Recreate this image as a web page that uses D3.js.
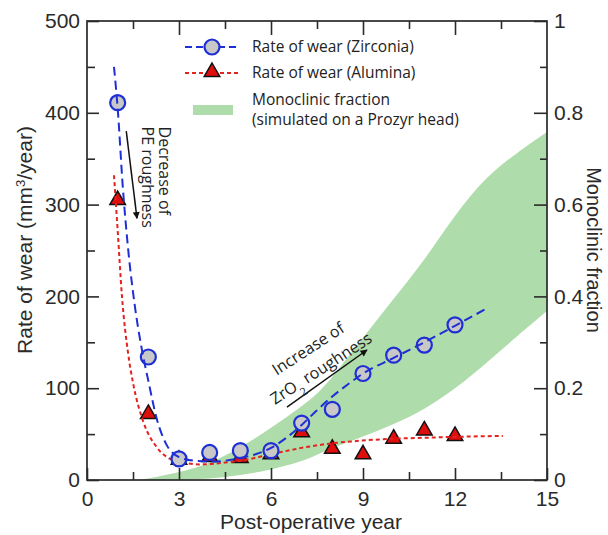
<!DOCTYPE html>
<html>
<head>
<meta charset="utf-8">
<script src="https://cdn.jsdelivr.net/npm/d3@7"></script>
<style>
  body { margin: 0; background: #fff; }
  svg { display: block; }
</style>
</head>
<body>
<svg id="chart" width="608" height="535"></svg>
<script>
// ---- Measured wear rates (mm^3/year) per post-operative year ----
const years = [1, 2, 3, 4, 5, 6, 7, 8, 9, 10, 11, 12];
const zirconiaWear = [411, 134, 23, 30, 32, 32, 62, 77, 116, 136, 147, 169];
const aluminaWear  = [305, 72, 22, 25, 24, 28, 52, 34, 28, 45, 54, 48];

// ---- Trend curves (year, wear) ----
const zirconiaTrendYears = [0.88, 1.0, 1.17, 1.34, 1.55, 1.79, 2.0, 2.28, 2.6, 3.0, 3.5, 4, 4.5, 5, 5.5, 6, 6.5, 7, 7.5, 8, 8.5, 9, 10, 11, 12, 13.04];
const zirconiaTrend      = [450, 405, 318, 252, 192, 142, 108, 66, 38, 25, 21, 20, 21, 24, 28, 35, 46, 60, 76, 91, 104, 116, 133, 150, 168, 187];
const aluminaTrendYears  = [0.88, 1.0, 1.14, 1.34, 1.5, 1.83, 2.27, 2.8, 3.7, 4.5, 5, 6, 7, 8, 9, 10, 11, 12, 13.56];
const aluminaTrend       = [332, 272, 200, 138, 106, 64, 36, 22, 17, 19, 21, 28, 35, 40, 43, 45, 46, 47, 48];

// ---- Simulated monoclinic fraction band (right axis) ----
const bandYears = [1.7, 2, 3, 4, 5, 6, 7, 7.5, 8, 9, 10, 11, 12, 13, 14, 15];
const bandLower = [0, 0, 0, 0.002, 0.01, 0.022, 0.04, 0.055, 0.07, 0.094, 0.121, 0.153, 0.198, 0.253, 0.312, 0.368];
const bandUpper = [0, 0.003, 0.016, 0.036, 0.07, 0.113, 0.16, 0.187, 0.223, 0.31, 0.395, 0.478, 0.578, 0.66, 0.712, 0.758];

// ---- Axis ticks ----
const xMajor = [0, 3, 6, 9, 12, 15];
const xMinor = [1.5, 4.5, 7.5, 10.5, 13.5];
const yMajor = [0, 100, 200, 300, 400, 500];
const yMinor = [50, 150, 250, 350, 450];
const rMajor = [0, 0.2, 0.4, 0.6, 0.8, 1];
const rMinor = [0.1, 0.3, 0.5, 0.7, 0.9];

// ---- Text ----
const xTitle = "Post-operative year";
const rightTitle = "Monoclinic fraction";
const legendLabels = ["Rate of wear (Zirconia)", "Rate of wear (Alumina)", "Monoclinic fraction", "(simulated on a Prozyr head)"];

// Annotations anchored in data space (year, wear)
const peArrow = [[1.28, 380], [1.63, 285]];
const peText = [{ t: "Decrease of", at: [2.36, 385] }, { t: "PE roughness", at: [1.78, 385] }];
const zrArrow = [[6.52, 79.5], [9.13, 141.6]];
const zrTextAt = { line1: [6.19, 113.6], line2: [6.13, 81.7] };

const W = 608, H = 535;
const margin = { top: 21, right: 61, bottom: 55, left: 87 };
const axisFont = "'Liberation Sans', Arial, Helvetica, sans-serif";
const noteFont = "'Open Sans', 'Noto Sans', sans-serif";
const ink = "#2a2a2a";
const blue = "#1e2fd4";
const red = "#e3231f";
const green = "#aedcaa";

const svg = d3.select("#chart");

const x = d3.scaleLinear().domain([0, 15]).range([margin.left, W - margin.right]);
const yL = d3.scaleLinear().domain([0, 500]).range([H - margin.bottom, margin.top]);
const yR = d3.scaleLinear().domain([0, 1]).range([H - margin.bottom, margin.top]);
const plotBottom = H - margin.bottom, plotRight = W - margin.right;

const defs = svg.append("defs");
defs.append("marker")
  .attr("id", "arrowHead")
  .attr("viewBox", "0 0 10 10")
  .attr("refX", 9).attr("refY", 5)
  .attr("markerWidth", 9).attr("markerHeight", 7)
  .attr("markerUnits", "userSpaceOnUse")
  .attr("orient", "auto")
  .append("path").attr("d", "M0,0 L10,5 L0,10 Z").attr("fill", "#111");
defs.append("clipPath").attr("id", "plotClip")
  .append("rect")
  .attr("x", margin.left).attr("y", margin.top)
  .attr("width", plotRight - margin.left).attr("height", plotBottom - margin.top);

// ---- Monoclinic band ----
const bandData = bandYears.map((yr, i) => ({ yr, lo: bandLower[i], hi: bandUpper[i] }));
svg.append("path")
  .datum(bandData)
  .attr("clip-path", "url(#plotClip)")
  .attr("fill", green)
  .attr("d", d3.area()
    .x(d => x(d.yr))
    .y0(d => yR(d.lo))
    .y1(d => yR(d.hi))
    .curve(d3.curveBasis));

// ---- Axes ----
function drawAxis(axis, tx, ty, withLabels) {
  const g = svg.append("g").attr("transform", `translate(${tx},${ty})`).call(axis);
  g.select(".domain").remove();
  g.selectAll(".tick line").attr("stroke", ink).attr("stroke-width", 1.6);
  g.selectAll(".tick text")
    .attr("fill", ink)
    .attr("font-family", axisFont)
    .attr("font-size", 21);
  if (!withLabels) g.selectAll(".tick text").remove();
  return g;
}
const rFmt = d => (d === 0 || d === 1) ? String(d) : d3.format(".1f")(d);

drawAxis(d3.axisBottom(x).tickValues(xMajor).tickSize(-12).tickPadding(11).tickFormat(d3.format("d")), 0, plotBottom, true);
drawAxis(d3.axisBottom(x).tickValues(xMinor).tickSize(-8), 0, plotBottom, false);
drawAxis(d3.axisTop(x).tickValues(xMajor.slice(1, -1)).tickSize(-14), 0, margin.top, false);
drawAxis(d3.axisTop(x).tickValues(xMinor).tickSize(-8), 0, margin.top, false);
drawAxis(d3.axisLeft(yL).tickValues(yMajor).tickSize(-12).tickPadding(7).tickFormat(d3.format("d")), margin.left, 0, true);
drawAxis(d3.axisLeft(yL).tickValues(yMinor).tickSize(-8), margin.left, 0, false);
drawAxis(d3.axisRight(yR).tickValues(rMajor).tickSize(-13).tickPadding(7).tickFormat(rFmt), plotRight, 0, true);
drawAxis(d3.axisRight(yR).tickValues(rMinor).tickSize(-7), plotRight, 0, false);

svg.append("rect")
  .attr("x", margin.left).attr("y", margin.top)
  .attr("width", plotRight - margin.left).attr("height", plotBottom - margin.top)
  .attr("fill", "none").attr("stroke", ink).attr("stroke-width", 1.7);

// ---- Axis titles ----
const leftTitle = svg.append("text")
  .attr("transform", "translate(32,240) rotate(-90)")
  .attr("text-anchor", "middle")
  .attr("font-family", axisFont).attr("font-size", 21).attr("fill", ink);
leftTitle.append("tspan").text("Rate of wear (mm");
leftTitle.append("tspan").attr("baseline-shift", "super").attr("font-size", 13).text("3");
leftTitle.append("tspan").text("/year)");

svg.append("text")
  .attr("x", 311).attr("y", 529)
  .attr("text-anchor", "middle")
  .attr("font-family", axisFont).attr("font-size", 21).attr("fill", ink)
  .text(xTitle);

svg.append("text")
  .attr("transform", "translate(587,250) rotate(90)")
  .attr("text-anchor", "middle")
  .attr("font-family", axisFont).attr("font-size", 20).attr("fill", ink)
  .text(rightTitle);

// ---- Series ----
const zirconia = years.map((yr, i) => ({ yr, v: zirconiaWear[i] }));
const alumina = years.map((yr, i) => ({ yr, v: aluminaWear[i] }));
const zTrend = zirconiaTrendYears.map((yr, i) => ({ yr, v: zirconiaTrend[i] }));
const aTrend = aluminaTrendYears.map((yr, i) => ({ yr, v: aluminaTrend[i] }));
const trendLine = d3.line().x(d => x(d.yr)).y(d => yL(d.v)).curve(d3.curveMonotoneX);
const triangle = d3.symbol().type(d3.symbolTriangle).size(105);

svg.append("g").selectAll("path")
  .data(alumina).join("path")
  .attr("transform", d => `translate(${x(d.yr)},${yL(d.v)})`)
  .attr("d", triangle)
  .attr("fill", "#e00d0d").attr("stroke", "#111").attr("stroke-width", 1.5);

svg.append("path").datum(aTrend)
  .attr("fill", "none").attr("stroke", red).attr("stroke-width", 2)
  .attr("stroke-dasharray", "4,3")
  .attr("d", trendLine);

svg.append("g").selectAll("circle")
  .data(zirconia).join("circle")
  .attr("cx", d => x(d.yr)).attr("cy", d => yL(d.v)).attr("r", 7.5)
  .attr("fill", "#c8c8c8").attr("stroke", blue).attr("stroke-width", 2.2);

svg.append("path").datum(zTrend)
  .attr("fill", "none").attr("stroke", blue).attr("stroke-width", 2)
  .attr("stroke-dasharray", "9,5")
  .attr("d", trendLine);

// ---- Legend ----
const lg = svg.append("g").attr("font-family", noteFont).attr("font-size", 15.5).attr("fill", "#222");
const rowY = [47, 73, 100, 120];
lg.append("line").attr("x1", 185).attr("x2", 238).attr("y1", rowY[0]).attr("y2", rowY[0])
  .attr("stroke", blue).attr("stroke-width", 2).attr("stroke-dasharray", "7,4");
lg.append("circle").attr("cx", 212).attr("cy", rowY[0]).attr("r", 7.5)
  .attr("fill", "#c8c8c8").attr("stroke", blue).attr("stroke-width", 2.2);
lg.append("line").attr("x1", 185).attr("x2", 238).attr("y1", rowY[1]).attr("y2", rowY[1])
  .attr("stroke", red).attr("stroke-width", 2).attr("stroke-dasharray", "4,3");
lg.append("path").attr("transform", `translate(212,${rowY[1] - 1})`).attr("d", triangle)
  .attr("fill", "#e00d0d").attr("stroke", "#111").attr("stroke-width", 1.5);
lg.append("rect").attr("x", 193).attr("y", 105).attr("width", 40).attr("height", 10).attr("fill", green);
legendLabels.forEach((t, i) => {
  lg.append("text").attr("x", 252).attr("y", rowY[i]).attr("dy", "0.35em").text(t);
});

// ---- Annotations ----
const ann = svg.append("g").attr("font-family", noteFont).attr("font-size", 16).attr("fill", "#222");
ann.append("line")
  .attr("x1", x(peArrow[0][0])).attr("y1", yL(peArrow[0][1]))
  .attr("x2", x(peArrow[1][0])).attr("y2", yL(peArrow[1][1]))
  .attr("stroke", "#111").attr("stroke-width", 1.5).attr("marker-end", "url(#arrowHead)");
peText.forEach(p => {
  ann.append("text")
    .attr("transform", `translate(${x(p.at[0])},${yL(p.at[1])}) rotate(90)`)
    .text(p.t);
});

ann.append("line")
  .attr("x1", x(zrArrow[0][0])).attr("y1", yL(zrArrow[0][1]))
  .attr("x2", x(zrArrow[1][0])).attr("y2", yL(zrArrow[1][1]))
  .attr("stroke", "#111").attr("stroke-width", 1.5).attr("marker-end", "url(#arrowHead)");
ann.append("text")
  .attr("transform", `translate(${x(zrTextAt.line1[0])},${yL(zrTextAt.line1[1])}) rotate(-33)`)
  .text("Increase of");
const zt = ann.append("text")
  .attr("transform", `translate(${x(zrTextAt.line2[0])},${yL(zrTextAt.line2[1])}) rotate(-33)`);
zt.append("tspan").text("ZrO");
zt.append("tspan").attr("baseline-shift", "sub").attr("font-size", 11).text("2");
zt.append("tspan").text(" roughness");
</script>
</body>
</html>
